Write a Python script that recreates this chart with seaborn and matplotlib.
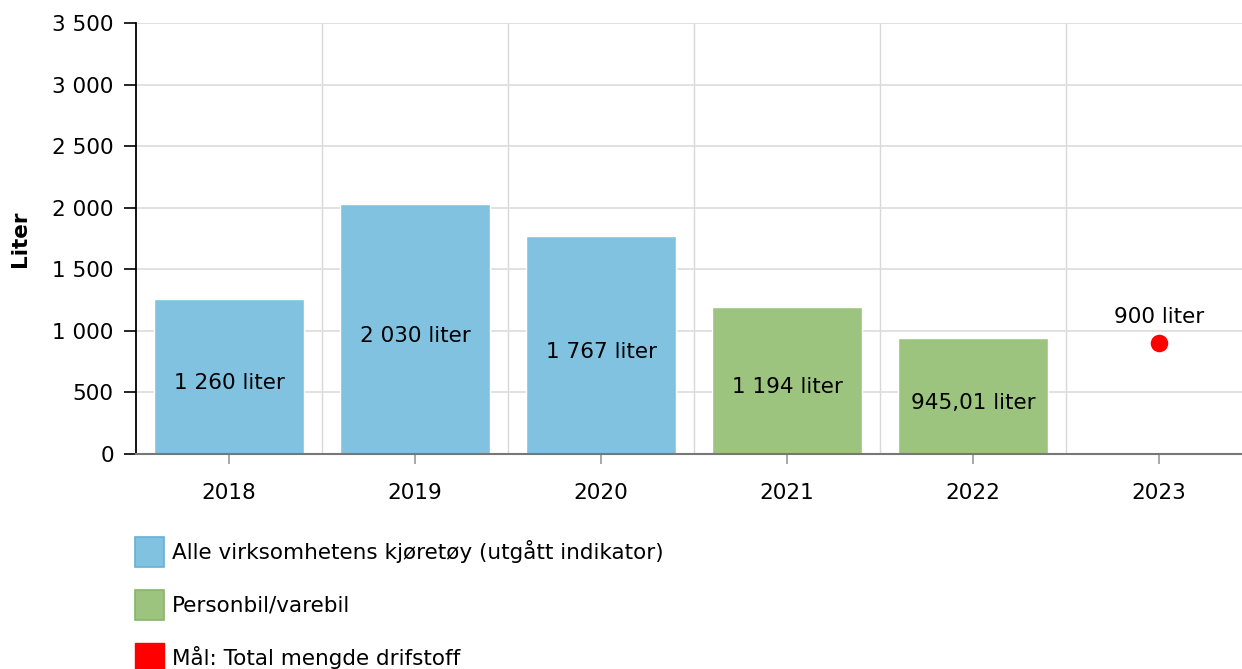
import matplotlib
matplotlib.use("Agg")
import matplotlib.pyplot as plt
from matplotlib.patches import Patch
import numpy as np
import pandas as pd
import seaborn as sns

# data
years = ["2018", "2019", "2020", "2021", "2022", "2023"]
bar_years = ["2018", "2019", "2020", "2021", "2022"]
bar_values = [1260, 2030, 1767, 1194, 945.01]
bar_labels = ["1 260 liter", "2 030 liter", "1 767 liter", "1 194 liter", "945,01 liter"]
bar_series = ["Alle virksomhetens kjøretøy (utgått indikator)"] * 3 + ["Personbil/varebil"] * 2
target_year = "2023"
target_value = 900
target_label = "900 liter"
target_name = "Mål: Total mengde drifstoff"

series_colors = {
    "Alle virksomhetens kjøretøy (utgått indikator)": "#82c2e1",
    "Personbil/varebil": "#9cc47f",
}
edge_colors = {
    "Alle virksomhetens kjøretøy (utgått indikator)": "#6aaed6",
    "Personbil/varebil": "#86b56a",
}
target_color = "#ff0000"

sns.set_theme(style="white")
plt.rcParams["font.family"] = ["DejaVu Sans"]
plt.rcParams["text.color"] = "black"
plt.rcParams["xtick.color"] = "black"
plt.rcParams["ytick.color"] = "black"
plt.rcParams["axes.labelcolor"] = "black"
fs = 15.5

df = pd.DataFrame({"year": bar_years, "value": bar_values, "series": bar_series})

fig = plt.figure(figsize=(12.42, 6.69), dpi=100)
ax = fig.add_axes([136 / 1242, 215 / 669, 1116 / 1242, 431 / 669])

sns.barplot(data=df, x="year", y="value", hue="series", order=years,
            palette=series_colors, dodge=False, width=0.806, saturation=1,
            legend=False, ax=ax)

for i, (v, lab) in enumerate(zip(bar_values, bar_labels)):
    ax.text(i, v / 2 - 55, lab, ha="center", va="center", fontsize=fs, color="black")

tx = years.index(target_year)
ax.scatter([tx], [target_value], s=160, color=target_color, zorder=5, linewidths=0)
ax.text(tx, target_value + 130, target_label, ha="center", va="bottom", fontsize=fs, color="black")

ax.set_xlim(-0.5, len(years) - 0.5)
ax.set_ylim(0, 3500)
ax.set_yticks(np.arange(0, 3501, 500))
ax.set_yticklabels([f"{int(t):,}".replace(",", " ") for t in np.arange(0, 3501, 500)])
ax.set_xticks(range(len(years)))
ax.set_xticklabels(years)
ax.set_xticks(np.arange(0.5, len(years) - 0.5, 1), minor=True)

ax.grid(axis="y", which="major", color="#dcdcdc", linewidth=1.2)
ax.grid(axis="x", which="minor", color="#d8d8d8", linewidth=1.0)
ax.grid(axis="x", which="major", visible=False)
ax.set_axisbelow(True)

ax.tick_params(axis="y", which="major", length=9, width=1.2, color="black",
               labelsize=fs, pad=7, left=True, labelcolor="black")
ax.tick_params(axis="x", which="major", length=7, width=1.2, color="#999999",
               labelsize=fs, pad=14, bottom=True, labelcolor="black")
ax.tick_params(axis="x", which="minor", length=0)

for s in ["top", "right"]:
    ax.spines[s].set_visible(False)
ax.spines["left"].set_color("black")
ax.spines["left"].set_linewidth(1.3)
ax.spines["bottom"].set_color("#777777")
ax.spines["bottom"].set_linewidth(1.5)

ax.set_xlabel("")
ax.set_ylabel("Liter", fontsize=fs, fontweight="bold", labelpad=16, color="black")

handles = [
    Patch(facecolor=series_colors[k], edgecolor=edge_colors[k], linewidth=1.2)
    for k in series_colors
] + [Patch(facecolor=target_color, edgecolor=target_color)]
labels = list(series_colors.keys()) + [target_name]
fig.legend(handles, labels, loc="upper left", bbox_to_anchor=(135 / 1242, 1 - 537 / 669),
           frameon=False, fontsize=fs, handlelength=1.35, handleheight=1.75,
           handletextpad=0.35, labelspacing=1.08, borderpad=0, borderaxespad=0,
           labelcolor="black")

fig.savefig("out.png", dpi=100)
